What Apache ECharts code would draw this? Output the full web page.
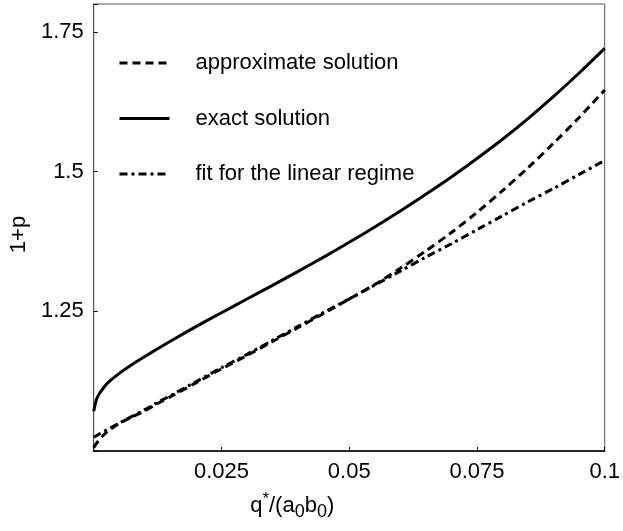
<!DOCTYPE html>
<html><head><meta charset="utf-8">
<script src="https://cdn.jsdelivr.net/npm/echarts@6/dist/echarts.min.js"></script>
<style>html,body{margin:0;padding:0;background:#fff}#c{width:623px;height:531px}</style>
</head><body><div id="c"></div>
<script>
// ---- data ----
const qValues        = [0, 0.0005, 0.001, 0.002, 0.003, 0.005, 0.0075, 0.01, 0.0125, 0.015, 0.02, 0.025, 0.03, 0.035, 0.04, 0.045, 0.05, 0.055, 0.06, 0.065, 0.07, 0.075, 0.08, 0.085, 0.09, 0.095, 0.1];
const approxSolution = [1.006, 1.013, 1.019, 1.029, 1.037, 1.049, 1.061, 1.072, 1.085, 1.097, 1.122, 1.147, 1.171, 1.196, 1.221, 1.246, 1.272, 1.298, 1.327, 1.358, 1.391, 1.427, 1.466, 1.507, 1.551, 1.597, 1.646];
const exactSolution  = [1.071, 1.091, 1.101, 1.114, 1.124, 1.139, 1.155, 1.169, 1.183, 1.1965, 1.2225, 1.2475, 1.272, 1.2965, 1.3215, 1.347, 1.3735, 1.401, 1.4295, 1.4595, 1.4905, 1.5235, 1.558, 1.595, 1.6345, 1.6765, 1.7205];
const linearFit      = [1.025, 1.027, 1.030, 1.035, 1.040, 1.050, 1.062, 1.074, 1.087, 1.099, 1.124, 1.149, 1.173, 1.198, 1.223, 1.248, 1.272, 1.297, 1.322, 1.347, 1.371, 1.396, 1.421, 1.446, 1.470, 1.495, 1.520];
const xTickLabels = [0.025, 0.05, 0.075, 0.1];
const yTickLabels = [1.25, 1.5, 1.75];
const seriesNames = ['approximate solution', 'exact solution', 'fit for the linear regime'];

const FAM = "'Liberation Sans', Arial, sans-serif";
const FS = 22;

function pair(xs, ys){ return xs.map((x,i)=>[x, ys[i]]); }
function tickFmt(list){ return v => { const t = list.find(t => Math.abs(t - v) < 1e-9); return t === undefined ? '' : String(t); }; }

const chart = echarts.init(document.getElementById('c'));
chart.setOption({
  animation: false,
  backgroundColor: '#fff',
  grid: { left: 88, right: 13, top: 4, bottom: 80, show: true, borderColor: '#555', borderWidth: 1 },
  legend: {
    orient: 'vertical', left: 113, top: 47,
    itemWidth: 50, itemHeight: 20, itemGap: 33.5,
    data: seriesNames,
    itemStyle: { opacity: 0, color: 'rgba(0,0,0,0)', borderWidth: 0 },
    lineStyle: { width: 3 },
    textStyle: { fontFamily: FAM, fontSize: FS, color: '#000', lineHeight: 20, padding: [0,0,0,21] }
  },
  xAxis: {
    type: 'value', min: 0, max: 0.1, interval: 0.025,
    name: '{n|q}{sup|*}{n|/(a}{sub|0}{n|b}{sub|0}{n|)}',
    nameLocation: 'middle', nameGap: 40,
    nameTextStyle: {
      padding: [0, 114, 0, 0],
      rich: {
        n:   { fontFamily: FAM, fontSize: FS, color: '#000', lineHeight: 30, verticalAlign: 'middle' },
        sup: { fontFamily: FAM, fontSize: Math.round(FS*0.75), color: '#000', lineHeight: 30, verticalAlign: 'top' },
        sub: { fontFamily: FAM, fontSize: Math.round(FS*0.8), color: '#000', lineHeight: 30, verticalAlign: 'bottom' }
      }
    },
    axisLine: { lineStyle: { color: '#000', width: 1.5 } },
    axisTick: { inside: true, length: 4, lineStyle: { color: '#000', width: 1 } },
    axisLabel: { formatter: tickFmt(xTickLabels), margin: 10, color: '#000', fontFamily: FAM, fontSize: FS },
    splitLine: { show: false }
  },
  yAxis: {
    type: 'value', min: 1.0, max: 1.8, interval: 0.25,
    name: '1+p', nameLocation: 'middle', nameGap: 60,
    nameTextStyle: { fontFamily: FAM, fontSize: FS, color: '#000', padding: [0, 14, 0, 0] },
    axisLine: { lineStyle: { color: '#555', width: 1 } },
    axisTick: { inside: true, length: 4, lineStyle: { color: '#000', width: 1 } },
    axisLabel: { formatter: tickFmt(yTickLabels), margin: 10, color: '#000', fontFamily: FAM, fontSize: FS },
    splitLine: { show: false }
  },
  series: [
    { name: seriesNames[0], type: 'line', data: pair(qValues, approxSolution), symbol: 'none', smooth: 0.3,
      lineStyle: { color: '#000', width: 3, type: [8, 5] }, itemStyle: { color: '#000' } },
    { name: seriesNames[1], type: 'line', data: pair(qValues, exactSolution), symbol: 'none', smooth: 0.3,
      lineStyle: { color: '#000', width: 3, type: 'solid' }, itemStyle: { color: '#000' } },
    { name: seriesNames[2], type: 'line', data: pair(qValues, linearFit), symbol: 'none', smooth: 0.3,
      lineStyle: { color: '#000', width: 3, type: [8, 4, 3, 4] }, itemStyle: { color: '#000' } }
  ]
});
</script>
</body></html>
